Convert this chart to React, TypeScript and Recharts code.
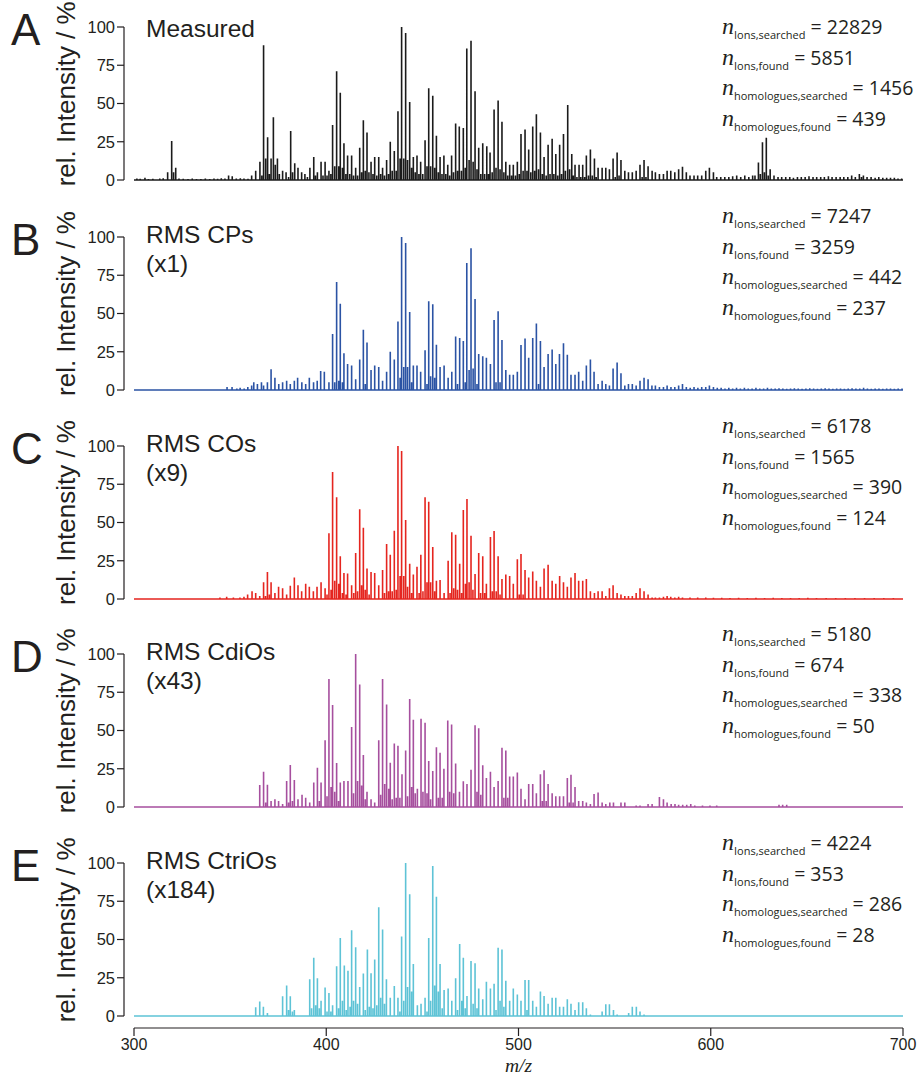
import React from 'react';
import { LineChart, Line, XAxis, YAxis } from 'recharts';

// ---------- tick labels / categories ----------
const xTicks = [300, 400, 500, 600, 700];
const yTicks = [0, 25, 50, 75, 100];

const panelLetters = ['A', 'B', 'C', 'D', 'E'];
const panelTitles = ['Measured', 'RMS CPs', 'RMS COs', 'RMS CdiOs', 'RMS CtriOs'];
const panelFactors = ['', '(x1)', '(x9)', '(x43)', '(x184)'];
const panelColors = ['#1b1b1b', '#2b53a4', '#e5251f', '#a64f9e', '#5ec3d6'];

const ionsSearched = [22829, 7247, 6178, 5180, 4224];
const ionsFound = [5851, 3259, 1565, 674, 353];
const homologuesSearched = [1456, 442, 390, 338, 286];
const homologuesFound = [439, 237, 124, 50, 28];

// ---------- peak lists [m/z, rel. intensity %] ----------
const measuredPeaks: [number, number][] = [
  [301.5,1],[303.2,0.8],[305.7,1.5],[307.5,0.6],[309.8,0.8],[311.6,0.5],[313.4,1],[315.2,1.2],[317.5,5],[319.6,25.5],[320.6,5],[321.7,8],[323.4,1],[325.6,0.8],[328.1,0.6],[330.3,1],[332.5,0.7],[334.8,0.6],[337.1,0.9],[339.4,0.7],[341.6,1],[343.5,0.8],[345.4,1.2],[347.3,1],[349.2,3],[351.1,2.5],[353.2,1],[355.3,1.2],[357.2,1],[359.3,0.8],[361.2,3],[363.3,6],[365.5,12],[366.5,3],[367.4,88],[368.5,14],[369.5,28],[370.4,4],[371.3,14],[372.5,41],[373.5,10],[374.6,14],[375.6,4],[377.3,6],[379.1,5],[380.4,2],[381.5,32],[382.5,5],[383.6,11],[385.3,8],[387.2,5],[388.9,4],[390.2,2],[391.5,8],[393.5,15],[394.4,3],[395.4,5],[397.3,12],[398.3,3],[399.4,12],[400.4,3],[401.4,6],[402.4,4],[403.3,36],[404.4,9],[405.4,71],[406.5,9],[407.3,57],[408.4,8],[409.2,24],[410.2,4],[411.1,16],[412.2,4],[413.2,16],[414.2,3],[415.3,8],[416.3,3],[417.4,21],[418.4,5],[419.3,39],[420.3,6],[421.2,31],[422.2,5],[423.3,12],[424.3,4],[425.2,15],[426.3,3],[427.3,15],[428.3,4],[429.3,8],[430.3,3],[431.4,13],[432.4,4],[433.3,25],[434.3,6],[435.4,19],[436.4,6],[437.3,45],[438.4,14],[439.2,100],[440.3,14],[441.3,96],[442.3,13],[443.4,51],[444.4,8],[445.3,15],[446.3,5],[447.2,16],[448.2,4],[449.1,12],[450.2,4],[451.4,26],[452.4,9],[453.3,60],[454.3,9],[455.4,55],[456.4,8],[457.3,29],[458.3,5],[459.2,15],[460.2,4],[461.2,16],[462.2,4],[463.2,10],[464.2,3],[465.2,16],[466.2,5],[467.3,37],[468.3,6],[469.2,35],[470.3,6],[471.3,34],[472.3,8],[473.1,86],[474.3,13],[475.3,91],[476.4,12],[477.4,58],[478.4,7],[479.3,21],[480.4,4],[481.4,24],[482.4,4],[483.5,22],[484.4,4],[485.2,18],[486.3,5],[487.3,46],[488.3,8],[489.4,52],[490.4,7],[491.4,38],[492.4,5],[493.4,12],[494.4,3],[495.4,10],[496.4,3],[497.3,10],[498.4,3],[499.4,12],[500.4,4],[501.3,30],[502.4,6],[503.4,33],[504.4,6],[505.3,20],[506.4,5],[507.4,35],[508.4,6],[509.3,43],[510.4,7],[511.4,31],[512.4,4],[513.3,15],[514.4,3],[515.4,23],[516.4,4],[517.5,27],[518.4,4],[519.4,17],[520.4,3],[521.4,23],[522.4,4],[523.4,30],[524.4,6],[525.6,49],[526.6,7],[527.7,17],[528.5,3],[529.4,10],[530.4,2],[531.5,10],[532.4,2],[533.4,10],[534.4,2],[535.3,16],[536.4,3],[537.4,20],[538.4,3],[539.5,14],[540.4,2],[541.4,8],[543.5,8],[545.4,8],[547.3,7],[549.2,14],[550.3,2],[551.3,18],[552.3,3],[553.3,13],[555.3,6],[557.2,5],[559.2,5],[561.2,6],[563.2,10],[564.3,2],[565.3,13],[566.3,2],[567.4,9],[569.5,6],[571.2,5],[573.3,4],[575.4,4],[577.3,6],[579.2,6],[581.3,5],[583.3,7],[585.3,8.7],[587.3,5],[589.2,3],[591.3,3],[593.2,3],[595.3,3],[597.4,6],[599.3,8],[601.4,5],[603.1,2],[605.2,2],[607.3,2],[609.4,2],[611.4,2.5],[613.5,3],[615.6,2],[617.7,3],[619.8,2],[621.8,3],[623.0,3],[624.8,11.5],[625.8,4],[626.9,24.6],[627.9,5],[628.9,27.6],[629.9,3],[630.9,7],[632.9,3],[635.0,2],[636.9,2],[639.0,2],[641.1,2],[643.0,1.5],[645.1,2],[647.1,2],[649.1,2],[651.1,2.5],[653.2,2],[655.1,2],[657.2,2],[659.1,2],[661.2,2.5],[663.1,2],[665.2,2],[667.3,2],[669.2,2],[671.3,2],[673.3,3],[675.2,2],[677.3,4],[678.4,2],[679.4,3],[681.3,2],[683.4,2],[685.5,1.5],[687.4,2],[689.5,1.5],[691.5,1.5],[693.5,1.5],[695.5,1.5],[697.4,1],[699.3,1]
];

const cpPeaks: [number, number][] = [
  [348.4,2],[351.0,2],[353.5,1],[355.2,1.5],[357.3,1],[359.2,2],[361.2,3],[362.3,5],[364.2,4],[366.3,5],[367.4,3],[369.4,5],[371.3,13.5],[373.3,8],[375.3,4],[377.3,5],[379.4,6],[381.3,4],[383.4,6],[385.1,8],[387.3,5],[389.3,4],[391.2,8],[393.4,5],[395.3,6],[397.1,12.4],[399.0,12],[401.4,5],[403.3,36.6],[404.4,5],[405.4,70.6],[406.5,6],[407.3,56.4],[408.4,5],[409.2,24],[411.1,17],[413.2,16],[415.3,7],[417.4,20],[419.3,39.4],[420.3,4],[421.2,31],[423.3,13],[425.2,16],[427.3,15],[429.3,6],[431.4,12],[433.3,25],[435.4,20],[437.3,44.7],[438.4,8],[439.2,100],[440.3,15],[441.3,96],[442.3,15],[443.4,51],[444.4,5],[445.3,16],[447.2,16],[449.1,12],[451.4,26],[452.4,4],[453.3,58],[454.3,9],[455.4,56],[456.4,8],[457.3,29.6],[459.2,15],[461.3,16],[463.4,8],[465.3,12],[467.3,35],[468.3,4],[469.4,34],[471.3,32],[472.3,5],[473.1,83],[474.3,13],[475.3,92.6],[476.4,14],[477.4,59.5],[478.4,4],[479.3,23.5],[481.4,22],[483.3,21],[485.4,17],[487.3,45.8],[488.3,5],[489.4,51.4],[490.4,5],[491.4,32.7],[493.4,13],[495.4,10],[497.3,10],[499.4,12],[501.3,29.4],[503.4,33.6],[505.3,21],[507.4,34],[509.3,43.4],[510.4,4],[511.4,32],[513.3,15],[515.4,23.5],[517.5,26.4],[519.4,17],[521.3,23.5],[523.4,30.5],[525.4,23],[527.3,10],[529.4,10],[531.3,12],[533.4,6],[535.3,16],[537.4,20],[539.3,12],[541.4,4],[543.5,6],[545.4,4],[547.3,3],[549.2,14],[551.3,18],[553.3,11],[555.3,3],[557.2,4],[559.2,4],[561.2,3],[563.2,6],[565.3,8],[567.4,7],[569.4,3],[571.2,3],[573.3,2],[575.4,2],[577.3,3],[579.3,2],[581.3,2],[583.3,3],[585.3,4],[587.3,2],[589.3,1.5],[591.3,2],[593.3,1.5],[595.3,2],[597.4,2],[599.3,3],[601.4,2],[603.4,1.5],[605.4,1.5],[607.4,1],[609.4,1.5],[611.4,1],[613.4,1.5],[615.4,1],[617.5,1.5],[619.5,1],[621.5,1],[623.5,1.5],[625.5,1],[627.5,1],[629.5,1.5],[631.5,1],[633.5,1],[635.5,1.2],[637.5,1],[639.5,0.8],[641.5,1],[643.5,1.2],[645.5,1],[647.5,0.8],[649.5,1],[651.5,1.2],[653.5,1],[655.5,0.8],[657.5,1],[659.5,1.2],[661.5,1],[663.5,0.8],[665.5,1],[667.5,1],[669.5,0.8],[671.5,1],[673.5,1.2],[675.5,1],[677.5,1],[679.5,1.5],[681.5,1],[683.5,0.8],[685.5,1],[687.5,1],[689.5,0.8],[691.5,1],[693.5,1],[695.5,0.8],[697.5,1],[699.5,1]
];

const coPeaks: [number, number][] = [
  [341.3,0.5],[344.7,1],[348.2,1.5],[351.7,1],[355.1,1],[357.2,1.5],[359.1,3],[361.4,5],[363.3,4],[365.4,2],[367.4,11],[368.4,2],[369.4,17.6],[370.4,3],[371.3,11],[373.3,4],[375.2,8],[377.3,7],[379.4,3],[381.3,8.7],[383.4,14],[385.3,9],[387.2,5],[389.3,10],[391.2,8],[393.3,5],[395.2,8],[397.3,11],[399.4,7],[400.4,3],[401.4,43],[402.5,6],[403.3,83],[404.4,12],[405.4,66.5],[406.5,10],[407.3,28],[408.4,4],[409.2,17],[410.3,3],[411.1,16.6],[413.2,9],[414.3,4],[415.3,30],[416.3,5],[417.4,58.6],[418.4,9],[419.3,46.6],[420.3,6],[421.2,20],[422.3,3],[423.3,17.6],[425.2,17],[427.3,9],[429.3,19],[430.3,4],[431.4,36],[432.4,5],[433.3,29],[434.3,5],[435.4,44.6],[436.4,6],[437.3,100],[438.4,15],[439.2,96.7],[440.3,15],[441.3,51.6],[442.3,8],[443.4,23],[444.4,4],[445.3,16],[447.2,21],[448.3,4],[449.2,29],[450.3,5],[451.4,66.5],[452.4,11],[453.3,63.6],[454.3,11],[455.4,34],[456.4,5],[457.3,12],[459.2,12.4],[461.3,4],[463.4,25],[464.4,4],[465.3,43.6],[466.3,7],[467.3,42],[468.3,6],[469.4,23],[470.4,4],[471.3,58.2],[472.4,10],[473.2,65.4],[474.3,11],[475.3,41.4],[476.3,6],[477.4,16.3],[479.3,30],[480.3,4],[481.4,28],[482.4,4],[483.3,10],[485.4,40.5],[486.4,5],[487.3,44.4],[488.4,5],[489.4,28],[490.4,3],[491.4,13],[493.4,16],[495.4,15],[497.3,10],[499.4,26],[500.4,3],[501.3,29.4],[502.4,3],[503.4,19],[505.3,14],[507.4,18],[509.3,12],[511.4,8],[513.3,20],[515.4,22.4],[517.5,12],[519.4,10],[521.4,15],[523.4,11],[525.4,8],[527.3,14],[529.4,17],[531.3,12],[533.4,12],[535.3,13],[537.4,5],[539.5,4],[541.4,5],[543.5,5],[545.4,2],[547.3,7],[549.2,9],[551.3,4],[553.3,3],[555.3,2],[557.2,2],[559.2,2],[561.2,4],[563.2,7],[565.3,5],[567.4,3],[569.5,1],[571.2,1],[573.3,1],[575.4,1.5],[577.3,2],[579.2,1.5],[581.3,1],[583.3,1.5],[585.3,1],[589.2,1],[593.2,1],[597.4,1],[601.4,0.8],[605.7,0.8],[610.0,0.6],[614.5,0.8],[619.0,0.6],[623.5,0.8],[628.0,0.6],[632.5,0.8],[637.0,0.6],[641.5,0.6],[646.0,0.6],[650.5,0.8],[655.0,0.6],[660.0,0.6],[665.0,0.6],[670.0,0.6],[675.0,0.6],[680.0,0.6],[685.0,0.6],[690.0,0.6],[695.0,0.6]
];

const cdioPeaks: [number, number][] = [
  [365.4,14.4],[367.4,23],[368.5,3],[369.4,14.6],[371.3,4],[373.3,5],[375.2,4],[377.3,2],[379.4,17],[380.4,3],[381.3,27.5],[382.4,4],[383.4,17.6],[385.3,5],[387.4,8],[389.3,6],[391.4,3],[393.5,16],[395.4,25.7],[396.4,4],[397.3,16],[399.4,43.6],[400.4,7],[401.4,83.7],[402.5,13],[403.3,66.7],[404.4,10],[405.4,28.8],[406.4,4],[407.3,16],[409.2,17],[411.3,17],[413.2,52.3],[414.2,9],[415.3,100],[416.3,17],[417.4,80],[418.4,14],[419.3,34],[420.3,5],[421.2,10],[423.3,5],[425.2,3],[427.3,43.6],[428.3,8],[429.3,83.7],[430.4,15],[431.4,67],[432.5,12],[433.3,29],[434.3,5],[435.4,41.5],[436.4,6],[437.3,40],[438.3,6],[439.4,21.4],[441.3,37],[442.3,7],[443.4,70.6],[444.4,13],[445.3,57],[446.3,9],[447.4,12],[449.3,57.6],[450.3,10],[451.4,55],[452.4,9],[453.3,30],[454.3,5],[455.4,23.6],[457.3,39],[458.3,6],[459.2,35.5],[460.3,6],[461.2,25],[463.2,56.5],[464.2,10],[465.2,54],[466.3,9],[467.3,28.5],[469.3,10],[471.3,16.8],[473.2,15],[475.3,24.4],[477.4,53.4],[478.4,10],[479.3,51.4],[480.4,8],[481.4,27.3],[483.3,19],[485.4,23],[487.3,13],[489.4,17],[491.4,38.7],[492.4,6],[493.4,37],[494.4,6],[495.4,20],[497.3,20],[499.4,22.6],[501.3,12],[503.4,5],[505.3,15],[507.4,15],[509.3,9],[511.4,21.4],[512.4,4],[513.3,24],[514.4,4],[515.4,15],[517.5,9],[519.4,7],[521.4,7],[523.4,7],[525.4,19],[526.4,3],[527.3,21],[528.4,3],[529.4,13],[531.3,4],[533.4,4],[535.3,3],[537.4,2],[539.3,8.5],[541.4,9.4],[543.5,3],[545.4,2],[547.5,3],[549.4,3],[553.3,3],[555.3,3],[561.2,1],[563.2,1],[567.4,2],[569.5,2],[573.3,6.5],[575.4,5],[577.3,3],[579.4,2],[581.4,2],[583.3,1.5],[585.4,1.5],[587.5,1.5],[589.6,2],[591.7,1],[595.7,1],[599.6,1],[603.1,1],[609.4,0.5],[635.5,1.5],[637.4,1.5],[639.5,1.5]
];

const ctrioPeaks: [number, number][] = [
  [363.3,5.7],[365.4,9.4],[367.3,6],[369.4,2],[377.3,12.9],[379.4,20],[380.4,4],[381.3,12.9],[382.4,3],[383.4,4],[391.4,24],[392.4,5],[393.5,38],[394.5,7],[395.4,24.6],[396.4,5],[397.3,10],[399.4,18.7],[400.4,3],[401.4,15],[402.4,3],[403.3,7],[405.4,32.5],[406.4,5],[407.3,51],[408.4,10],[409.4,33],[410.4,4],[411.3,29.6],[412.4,6],[413.2,56],[414.2,10],[415.3,45],[416.3,8],[417.4,19],[419.3,27.8],[420.3,4],[421.4,43.5],[422.4,6],[423.3,28],[424.3,5],[425.2,37],[426.3,7],[427.3,71],[428.3,12],[429.3,56.6],[430.3,8],[431.3,24],[433.3,12],[435.4,19.6],[437.3,12],[438.3,3],[439.2,52],[440.3,10],[441.3,100],[442.3,19],[443.4,79.5],[444.4,16],[445.3,34],[447.4,7],[449.3,8],[451.4,12],[452.4,3],[453.3,51],[454.3,10],[455.4,98],[456.4,20],[457.3,78],[458.3,16],[459.2,34],[460.3,5],[461.3,17],[463.4,18],[465.3,10],[467.3,24.6],[468.3,4],[469.4,47],[470.5,10],[471.3,38],[472.3,5],[473.2,13],[475.3,36],[476.4,8],[477.4,34.4],[478.4,5],[479.3,18],[481.4,11],[483.3,22.4],[485.4,18],[487.3,21],[488.3,4],[489.4,44.6],[490.4,10],[491.4,43.5],[492.4,6],[493.4,23],[495.4,10],[497.3,18],[499.4,14],[501.3,10],[503.4,23.5],[504.4,4],[505.3,23.5],[507.4,10],[509.3,6],[511.4,16],[513.3,13],[515.4,8],[517.5,12],[519.4,12],[521.4,6],[523.4,6],[525.4,11],[527.3,8],[529.4,4],[531.3,9],[533.4,9],[535.3,5],[537.4,1],[543.5,3],[545.4,7.7],[547.3,7.7],[549.4,4],[551.3,1],[557.3,2],[559.2,6],[561.3,6],[563.2,3],[565.3,1]
];

const panelPeaks = [measuredPeaks, cpPeaks, coPeaks, cdioPeaks, ctrioPeaks];

// ---------- layout ----------
const PLOT_LEFT = 134;
const PLOT_W = 769;
const PLOT_H = 153;
const PAD = 5;
const AXIS_PAD = 14;
const SIDE = 40;
const Y_AXIS_X = 124;
const panelTops = [27.3, 237, 446, 654.3, 863.3];
const annotTops = [34, 223, 433, 641, 850];
const ANNOT_STEP = 30.5;
const TXT = '#231f20';
const SANS = '"Liberation Sans", Arial, Helvetica, sans-serif';
const MYRIAD = '"Open Sans", "Liberation Sans", sans-serif';
const SERIF = '"Liberation Serif", "Times New Roman", serif';

type Row = { mz: number; v: number };

function buildSticks(peaks: [number, number][]): Row[] {
  const sorted = [...peaks].sort((a, b) => a[0] - b[0]);
  const rows: Row[] = [{ mz: 300, v: 0 }];
  for (const [mz, v] of sorted) {
    rows.push({ mz, v: 0 }, { mz, v }, { mz, v: 0 });
  }
  rows.push({ mz: 700, v: 0 });
  return rows;
}

const yTickStyle = { fontSize: 16.5, fill: TXT, fontFamily: SANS };
const xTickStyle = { fontSize: 16, fill: TXT, fontFamily: SANS };

function Panel({ index }: { index: number }) {
  const data = buildSticks(panelPeaks[index]);
  return (
    <>
      {/* y-axis, offset to the left of the data region */}
      <div style={{ position: 'absolute', left: 0, top: panelTops[index] - AXIS_PAD }}>
        <LineChart width={Y_AXIS_X + 6} height={PLOT_H + 2 * AXIS_PAD} data={data}
          margin={{ top: AXIS_PAD, bottom: AXIS_PAD, left: 0, right: 0 }}>
          <XAxis type="number" dataKey="mz" domain={[300, 700]} hide />
          <YAxis type="number" dataKey="v" domain={[0, 100]} ticks={yTicks} width={Y_AXIS_X}
            tickSize={7} tickMargin={2} interval={0} allowDataOverflow
            axisLine={{ stroke: TXT, strokeWidth: 1.2 }}
            tickLine={{ stroke: TXT, strokeWidth: 1.2 }}
            tick={yTickStyle} />
          <Line type="linear" dataKey="v" stroke="none" dot={false} activeDot={false} isAnimationActive={false} />
        </LineChart>
      </div>
      {/* data region */}
      <div style={{ position: 'absolute', left: PLOT_LEFT - PAD, top: panelTops[index] - PAD }}>
        <LineChart width={PLOT_W + 2 * PAD} height={PLOT_H + 2 * PAD} data={data}
          margin={{ top: PAD, bottom: PAD, left: PAD, right: PAD }}>
          <XAxis type="number" dataKey="mz" domain={[300, 700]} hide allowDataOverflow />
          <YAxis type="number" dataKey="v" domain={[0, 100]} hide />
          <Line type="linear" dataKey="v" stroke={panelColors[index]} strokeWidth={1.6}
            strokeLinejoin="bevel" dot={false} activeDot={false} isAnimationActive={false} />
        </LineChart>
      </div>
    </>
  );
}

function BottomAxis() {
  const axisY = panelTops[4] + PLOT_H + 12;
  const data = buildSticks(ctrioPeaks);
  return (
    <div style={{ position: 'absolute', left: PLOT_LEFT - SIDE, top: axisY - 15 }}>
      <LineChart width={PLOT_W + 2 * SIDE} height={45} data={data}
        margin={{ top: PAD, bottom: 0, left: SIDE, right: SIDE }}>
        <XAxis type="number" dataKey="mz" domain={[300, 700]} ticks={xTicks} interval={0}
          height={30} tickSize={8} tickMargin={3}
          axisLine={{ stroke: TXT, strokeWidth: 1.2 }}
          tickLine={{ stroke: TXT, strokeWidth: 1.2 }}
          tick={xTickStyle} />
        <YAxis type="number" dataKey="v" domain={[0, 100]} hide />
        <Line type="linear" dataKey="v" stroke="none" dot={false} activeDot={false} isAnimationActive={false} />
      </LineChart>
    </div>
  );
}

function Annotation({ index }: { index: number }) {
  const rows: [string, number][] = [
    ['Ions,searched', ionsSearched[index]],
    ['Ions,found', ionsFound[index]],
    ['homologues,searched', homologuesSearched[index]],
    ['homologues,found', homologuesFound[index]],
  ];
  return (
    <g>
      {rows.map(([sub, val], k) => (
        <text key={k} x={722} y={annotTops[index] + k * ANNOT_STEP} fill={TXT}>
          <tspan fontFamily={SERIF} fontStyle="italic" fontSize={24}>n</tspan>
          <tspan fontFamily={MYRIAD} fontSize={11} dy={5}>{sub}</tspan>
          <tspan fontFamily={MYRIAD} fontSize={19.5} dy={-5}>{` = ${val}`}</tspan>
        </text>
      ))}
    </g>
  );
}

export default function App() {
  return (
    <div style={{ position: 'absolute', left: 0, top: 0, width: 921, height: 1076, background: '#fff', overflow: 'hidden' }}>
      {panelLetters.map((_, i) => <Panel key={i} index={i} />)}
      <BottomAxis />
      <svg width={921} height={1076} style={{ position: 'absolute', left: 0, top: 0, pointerEvents: 'none' }}>
        {panelLetters.map((letter, i) => {
          const t = panelTops[i];
          const mid = t + PLOT_H / 2 - 10;
          return (
            <g key={letter}>
              <text x={11} y={t + 18} fontFamily={SANS} fontSize={44} fill={TXT}>{letter}</text>
              <text x={75} y={mid} transform={`rotate(-90 75 ${mid})`} textAnchor="middle"
                fontFamily={SANS} fontSize={26} fill={TXT}>rel. Intensity / %</text>
              <text x={146} y={t + (i === 0 ? 9.5 : 6)} fontFamily={SANS} fontSize={24.5} fill={TXT}>{panelTitles[i]}</text>
              {panelFactors[i] && (
                <text x={146} y={t + 35} fontFamily={SANS} fontSize={24.5} fill={TXT}>{panelFactors[i]}</text>
              )}
              <Annotation index={i} />
            </g>
          );
        })}
        <text x={518.5} y={1071.7} textAnchor="middle" fontFamily={SERIF}
          fontStyle="italic" fontSize={19.5} fill={TXT}>m/z</text>
      </svg>
    </div>
  );
}
